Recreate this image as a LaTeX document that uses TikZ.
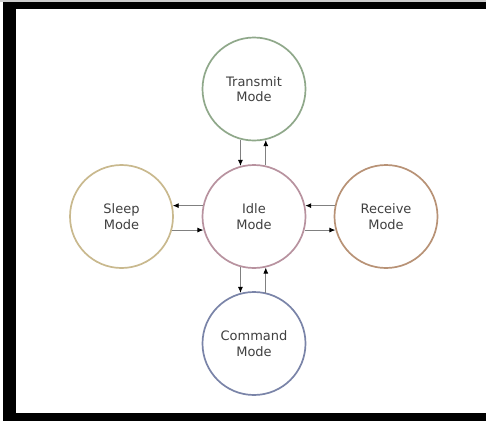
\documentclass[tikz,border=0pt]{standalone}
\usepackage{fontspec}
\setmainfont{DejaVu Sans}
\usetikzlibrary{arrows.meta}
\definecolor{txtc}{HTML}{404040}
\definecolor{linec}{HTML}{808080}
\definecolor{cgreen}{HTML}{8FA88A}
\definecolor{cpink}{HTML}{B8929F}
\definecolor{ctan}{HTML}{C9B98E}
\definecolor{cbrown}{HTML}{B89276}
\definecolor{cblue}{HTML}{7A84A8}
\tikzset{
  mode/.style={circle, draw=#1, line width=1.7pt, fill=white, minimum size=103pt, inner sep=0pt,
    align=center, font=\fontsize{13}{15.5}\selectfont, text=txtc},
  arr/.style={draw=linec, line width=0.9pt, -{Latex[length=6pt,width=5pt,color=black]}}
}
\begin{document}
\begin{tikzpicture}[x=1pt,y=-1pt]
\useasboundingbox (0,0) rectangle (486,421);
\fill[white] (0,0) rectangle (486,421);
% frame
\fill[black!20] (0,0) rectangle (486,2);
\fill[black] (3,2) rectangle (486,9);
\fill[black] (3,2) rectangle (16,421);
\fill[black] (3,413) rectangle (486,421);
% nodes
\node[mode=cgreen] (T) at (254,89) {Transmit\\Mode};
\node[mode=cpink] (I) at (254,216.5) {Idle\\Mode};
\node[mode=ctan] (S) at (121.5,216.5) {Sleep\\Mode};
\node[mode=cbrown] (R) at (386,216.5) {Receive\\Mode};
\node[mode=cblue] (C) at (254,343.5) {Command\\Mode};
% connectors
\draw[arr] (T.-105) -- (I.105);
\draw[arr] (I.77) -- (T.-77);
\draw[arr] (I.168) -- (S.12);
\draw[arr] (S.-15) -- (I.195);
\draw[arr] (R.168) -- (I.12);
\draw[arr] (I.-15) -- (R.195);
\draw[arr] (I.-105) -- (C.105);
\draw[arr] (C.77) -- (I.-77);
\end{tikzpicture}
\end{document}
